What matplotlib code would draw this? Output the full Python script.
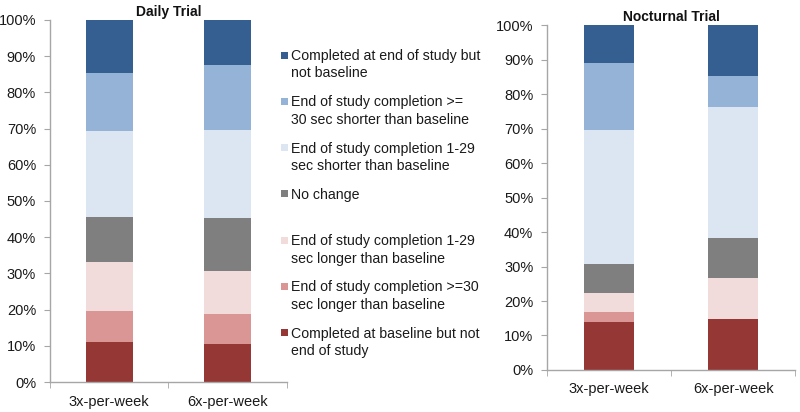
import matplotlib.pyplot as plt
from matplotlib.patches import Rectangle
import numpy as np

plt.rcParams['font.family'] = ['Liberation Sans', 'DejaVu Sans']

# Categories and series (bottom to top of each stack)
groups = ['3x-per-week', '6x-per-week']
series = ['Completed at baseline but not\nend of study',
          'End of study completion >=30\nsec longer than baseline',
          'End of study completion 1-29\nsec longer than baseline',
          'No change',
          'End of study completion 1-29\nsec shorter than baseline',
          'End of study completion >=\n30 sec shorter than baseline',
          'Completed at end of study but\nnot baseline']
colors = ['#953735', '#D99694', '#F2DCDB', '#7F7F7F', '#DCE6F2', '#95B3D7', '#365F91']

# percent of participants, one row per series, columns = groups
daily = [[11.1, 10.6],
         [8.5, 8.3],
         [13.6, 11.7],
         [12.4, 14.6],
         [23.7, 24.4],
         [15.9, 17.8],
         [14.8, 12.6]]
nocturnal = [[14.0, 14.8],
             [2.7, 0.0],
             [5.5, 11.8],
             [8.4, 11.8],
             [39.0, 37.9],
             [19.3, 8.9],
             [11.1, 14.8]]

text_col = '#1a1a1a'
axis_col = '#A6A6A6'


def stacked(ax, data, title):
    x = np.arange(len(groups))
    bottom = np.zeros(len(groups))
    for vals, col in zip(data, colors):
        v = np.array(vals) / 100.0
        ax.bar(x, v, 0.4, bottom=bottom, color=col, linewidth=0)
        bottom += v
    ax.set_xlim(-0.5, 1.5)
    ax.set_ylim(0, 1.0)
    ax.set_yticks(np.arange(0, 1.01, 0.1))
    ax.set_yticklabels(['%d%%' % round(t * 100) for t in np.arange(0, 1.01, 0.1)])
    ax.set_xticks(x)
    ax.set_xticklabels(groups)
    ax.set_xticks([-0.5, 0.5, 1.5], minor=True)
    ax.tick_params(axis='x', which='major', length=0, pad=9, labelsize=10.5, labelcolor=text_col)
    ax.tick_params(axis='x', which='minor', length=4, color=axis_col, direction='out')
    ax.tick_params(axis='y', length=4, color=axis_col, direction='out', labelsize=10.5,
                   labelcolor=text_col, pad=6)
    for s in ['top', 'right']:
        ax.spines[s].set_visible(False)
    for s in ['left', 'bottom']:
        ax.spines[s].set_color(axis_col)
        ax.spines[s].set_linewidth(1.0)
    ax.set_title(title, fontsize=10, fontweight='bold', pad=3, color='#111111')


fig = plt.figure(figsize=(8, 4.12), dpi=100)
ax1 = fig.add_axes([0.0625, 0.0728, 0.296, 0.879])
ax2 = fig.add_axes([0.684, 0.102, 0.31, 0.837])
stacked(ax1, daily, 'Daily Trial')
stacked(ax2, nocturnal, 'Nocturnal Trial')

# legend, top entry is the last series
W, H = 800.0, 412.0
for i, (lab, col) in enumerate(zip(series[::-1], colors[::-1])):
    yc = 55 + i * 46.3
    fig.patches.append(Rectangle((281 / W, 1 - (yc + 3.5) / H), 7 / W, 7 / H,
                                 transform=fig.transFigure, color=col, linewidth=0))
    fig.text(291 / W, 1 - (yc - 6) / H, lab, fontsize=10.2, va='top', ha='left',
             color=text_col, linespacing=1.3)

fig.savefig('out.png', dpi=100)
